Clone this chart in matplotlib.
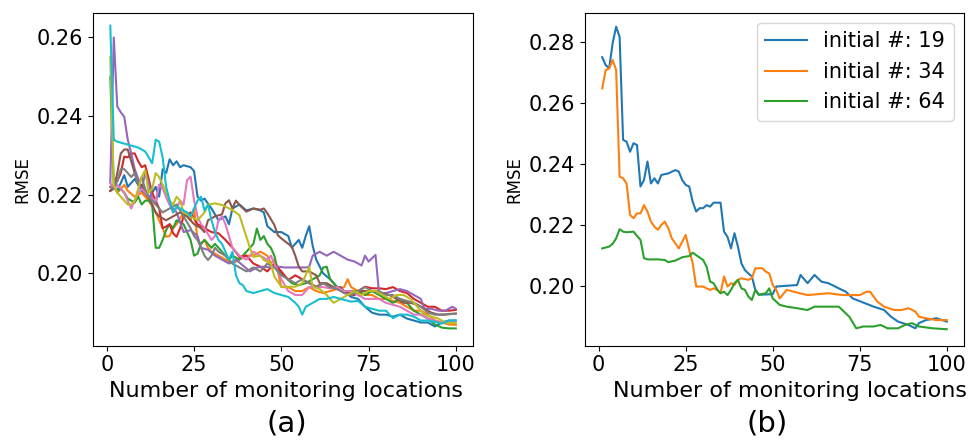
import matplotlib.pyplot as plt

# --- panel (a): ten runs, keypoints ---
a_c0_x = [1, 2, 3, 4, 5, 6, 8, 10, 12, 14, 15, 16, 17, 18, 19, 20, 21, 22, 24, 25, 26, 27, 28, 30, 32, 34, 35, 36, 38, 40, 42, 44, 45, 46, 48, 50, 52, 53, 55, 56, 57, 58, 59, 60, 62, 64, 66, 68, 70, 72, 74, 76, 78, 80, 82, 84, 86, 88, 90, 92, 94, 96, 98, 100]
a_c0_y = [0.221, 0.222, 0.221, 0.223, 0.225, 0.222, 0.224, 0.221, 0.219, 0.222, 0.2195, 0.2265, 0.2255, 0.229, 0.2275, 0.2285, 0.227, 0.2275, 0.227, 0.226, 0.2195, 0.2185, 0.219, 0.2165, 0.2135, 0.2145, 0.2125, 0.2165, 0.2175, 0.216, 0.2165, 0.216, 0.2155, 0.212, 0.2105, 0.2105, 0.2095, 0.2065, 0.2085, 0.2065, 0.2095, 0.212, 0.207, 0.2035, 0.2, 0.1985, 0.1965, 0.1955, 0.194, 0.1935, 0.1915, 0.19, 0.1895, 0.1895, 0.189, 0.1895, 0.1885, 0.188, 0.1875, 0.1875, 0.1865, 0.1875, 0.188, 0.188]

a_c1_x = [1, 2, 3, 4, 5, 6, 8, 10, 12, 14, 15, 16, 17, 18, 19, 20, 22, 24, 25, 26, 27, 28, 29, 30, 32, 34, 36, 38, 40, 42, 44, 46, 47, 48, 49, 50, 52, 54, 56, 58, 60, 62, 64, 66, 68, 69, 70, 72, 74, 76, 78, 80, 82, 84, 86, 88, 90, 92, 94, 96, 98, 100]
a_c1_y = [0.222, 0.2225, 0.2205, 0.2215, 0.2225, 0.221, 0.2195, 0.2205, 0.2185, 0.2155, 0.2135, 0.2115, 0.2093, 0.2095, 0.2115, 0.2125, 0.2155, 0.2135, 0.2165, 0.2085, 0.2075, 0.2085, 0.2065, 0.2055, 0.2045, 0.2035, 0.2025, 0.2035, 0.2045, 0.2045, 0.2055, 0.2045, 0.2025, 0.2035, 0.2005, 0.1965, 0.1965, 0.1955, 0.1955, 0.1965, 0.1955, 0.195, 0.1955, 0.196, 0.1965, 0.1985, 0.1965, 0.1955, 0.1945, 0.1945, 0.1935, 0.1935, 0.193, 0.1925, 0.1915, 0.1905, 0.1905, 0.1895, 0.188, 0.1875, 0.187, 0.1869]

a_c2_x = [1, 2, 3, 4, 5, 6, 7, 8, 9, 10, 11, 12, 13, 14, 15, 16, 17, 18, 19, 20, 22, 24, 25, 26, 27, 28, 29, 30, 31, 32, 33, 34, 35, 36, 38, 40, 42, 43, 44, 45, 46, 47, 48, 49, 51, 53, 55, 57, 59, 61, 62, 63, 64, 66, 68, 70, 72, 74, 76, 78, 80, 82, 84, 86, 88, 90, 92, 94, 96, 98, 100]
a_c2_y = [0.25, 0.222, 0.221, 0.2215, 0.2205, 0.219, 0.2185, 0.218, 0.2195, 0.2175, 0.2185, 0.2185, 0.2175, 0.2065, 0.2065, 0.2085, 0.211, 0.2125, 0.2115, 0.2135, 0.2125, 0.2085, 0.2045, 0.205, 0.2075, 0.2085, 0.2075, 0.2065, 0.2075, 0.2065, 0.2055, 0.2045, 0.2035, 0.2045, 0.2035, 0.2055, 0.2075, 0.2114, 0.2085, 0.2095, 0.2075, 0.2065, 0.2045, 0.2008, 0.1992, 0.1975, 0.197, 0.1975, 0.1985, 0.1995, 0.2015, 0.2017, 0.1985, 0.1965, 0.195, 0.1955, 0.1955, 0.1945, 0.1955, 0.1945, 0.1935, 0.1925, 0.1935, 0.1925, 0.1905, 0.1895, 0.1885, 0.187, 0.1862, 0.186, 0.186]

a_c3_x = [1, 2, 3, 4, 5, 6, 7, 8, 9, 10, 11, 12, 13, 14, 15, 16, 17, 18, 19, 20, 21, 22, 24, 26, 28, 30, 32, 34, 36, 38, 40, 42, 44, 46, 48, 50, 52, 54, 56, 58, 60, 62, 64, 66, 68, 70, 72, 74, 76, 78, 80, 82, 84, 86, 88, 90, 92, 94, 96, 98, 100]
a_c3_y = [0.221, 0.222, 0.2235, 0.2255, 0.2297, 0.2295, 0.2305, 0.2305, 0.2285, 0.227, 0.2275, 0.224, 0.2205, 0.2185, 0.2165, 0.2115, 0.2119, 0.2125, 0.2102, 0.2093, 0.2115, 0.2145, 0.2155, 0.2125, 0.2115, 0.2105, 0.2102, 0.2085, 0.2065, 0.2042, 0.2045, 0.2025, 0.2017, 0.2005, 0.2025, 0.2005, 0.1983, 0.1995, 0.1985, 0.1975, 0.1966, 0.1975, 0.1965, 0.196, 0.1955, 0.1949, 0.1955, 0.1966, 0.1962, 0.1962, 0.196, 0.1965, 0.1955, 0.195, 0.1935, 0.1925, 0.1915, 0.1915, 0.1905, 0.1905, 0.1907]

a_c4_x = [1, 2, 3, 4, 5, 6, 7, 8, 9, 10, 11, 12, 13, 14, 15, 16, 17, 18, 20, 22, 24, 26, 27, 29, 31, 33, 35, 37, 39, 41, 43, 45, 47, 49, 51, 53, 55, 57, 58, 59, 61, 63, 65, 67, 69, 71, 73, 74, 75, 77, 78, 80, 82, 84, 86, 88, 90, 91, 93, 95, 97, 99, 100]
a_c4_y = [0.223, 0.26, 0.2424, 0.241, 0.2398, 0.234, 0.2305, 0.2265, 0.224, 0.2215, 0.2255, 0.223, 0.219, 0.2175, 0.2225, 0.2225, 0.2195, 0.2175, 0.2155, 0.2105, 0.211, 0.2095, 0.2065, 0.206, 0.2045, 0.2035, 0.2025, 0.2035, 0.202, 0.2005, 0.2015, 0.2017, 0.2015, 0.2017, 0.2015, 0.2015, 0.2015, 0.2015, 0.2017, 0.2045, 0.2055, 0.2045, 0.2055, 0.2045, 0.2035, 0.203, 0.202, 0.2045, 0.203, 0.2047, 0.195, 0.195, 0.1955, 0.196, 0.1955, 0.1945, 0.1935, 0.191, 0.191, 0.1905, 0.1905, 0.1915, 0.191]

a_c5_x = [1, 2, 3, 4, 5, 6, 7, 8, 9, 10, 11, 12, 13, 14, 15, 17, 19, 21, 23, 25, 27, 28, 29, 31, 33, 34, 35, 36, 37, 38, 40, 42, 44, 45, 46, 48, 49, 50, 52, 53, 54, 55, 56, 58, 60, 61, 63, 65, 67, 69, 71, 73, 75, 77, 79, 81, 83, 85, 87, 89, 91, 93, 95, 97, 100]
a_c5_y = [0.221, 0.2215, 0.2255, 0.2305, 0.2315, 0.2315, 0.2285, 0.2255, 0.2225, 0.2225, 0.2205, 0.2195, 0.2175, 0.2155, 0.2145, 0.2135, 0.2145, 0.2155, 0.2145, 0.2125, 0.2115, 0.2105, 0.2135, 0.2145, 0.215, 0.2178, 0.2186, 0.2165, 0.2185, 0.2174, 0.2157, 0.2165, 0.2162, 0.2165, 0.2153, 0.2123, 0.2097, 0.2089, 0.2075, 0.2068, 0.2045, 0.2017, 0.2005, 0.2005, 0.1995, 0.1975, 0.1975, 0.1965, 0.1965, 0.1945, 0.1945, 0.1955, 0.1955, 0.1955, 0.195, 0.1945, 0.1935, 0.1925, 0.1925, 0.192, 0.191, 0.19, 0.1895, 0.1895, 0.1898]

a_c6_x = [1, 2, 3, 4, 5, 6, 7, 8, 9, 10, 12, 14, 15, 16, 17, 18, 19, 20, 21, 22, 23, 24, 25, 26, 27, 28, 30, 31, 32, 33, 34, 35, 36, 38, 40, 42, 44, 46, 47, 48, 50, 52, 54, 56, 58, 60, 62, 64, 66, 68, 70, 72, 74, 76, 78, 80, 82, 84, 86, 88, 90, 92, 94, 96, 98, 100]
a_c6_y = [0.223, 0.2215, 0.2225, 0.2215, 0.2205, 0.2185, 0.2165, 0.2185, 0.2205, 0.2215, 0.2195, 0.2185, 0.2225, 0.2215, 0.2195, 0.2175, 0.2155, 0.2165, 0.2185, 0.2175, 0.2237, 0.2246, 0.2186, 0.2145, 0.2125, 0.2115, 0.2085, 0.2095, 0.2135, 0.2145, 0.2125, 0.2095, 0.2065, 0.2045, 0.2035, 0.2055, 0.2045, 0.2034, 0.2045, 0.2025, 0.1985, 0.1955, 0.1945, 0.1945, 0.1965, 0.1965, 0.1965, 0.1962, 0.1965, 0.1955, 0.1955, 0.1945, 0.1935, 0.1935, 0.1935, 0.1925, 0.192, 0.1915, 0.1905, 0.1895, 0.1895, 0.1885, 0.188, 0.1875, 0.1878, 0.1878]

a_c7_x = [1, 2, 3, 4, 5, 6, 7, 8, 9, 10, 11, 12, 13, 14, 15, 16, 18, 20, 22, 24, 25, 26, 27, 28, 29, 30, 31, 32, 34, 36, 38, 40, 42, 44, 46, 48, 50, 52, 54, 56, 58, 60, 62, 64, 66, 68, 70, 72, 74, 76, 78, 80, 82, 84, 86, 88, 90, 92, 94, 96, 98, 100]
a_c7_y = [0.222, 0.2215, 0.2235, 0.2265, 0.2265, 0.2255, 0.2245, 0.2255, 0.2225, 0.2245, 0.2215, 0.2195, 0.2185, 0.2175, 0.2165, 0.2155, 0.2165, 0.2175, 0.2145, 0.2115, 0.2095, 0.2085, 0.2065, 0.2045, 0.2034, 0.2045, 0.2065, 0.2055, 0.2045, 0.2025, 0.2015, 0.2005, 0.2015, 0.2005, 0.2025, 0.2015, 0.1995, 0.1985, 0.1975, 0.1985, 0.1975, 0.1965, 0.1975, 0.1965, 0.196, 0.195, 0.1945, 0.1955, 0.1965, 0.1955, 0.1955, 0.1945, 0.1945, 0.1935, 0.193, 0.1925, 0.1915, 0.19, 0.1895, 0.1895, 0.1897, 0.1897]

a_c8_x = [1, 2, 3, 4, 5, 6, 7, 8, 9, 10, 11, 12, 13, 14, 15, 16, 17, 18, 19, 20, 21, 22, 24, 26, 28, 29, 31, 33, 36, 38, 40, 41, 42, 44, 45, 47, 48, 50, 52, 54, 56, 58, 59, 61, 63, 65, 67, 69, 71, 73, 75, 77, 79, 81, 83, 85, 87, 89, 91, 93, 95, 97, 100]
a_c8_y = [0.255, 0.2225, 0.2205, 0.2195, 0.2185, 0.2175, 0.2175, 0.2185, 0.2215, 0.2245, 0.2263, 0.2205, 0.2215, 0.2255, 0.2245, 0.2225, 0.2205, 0.2185, 0.2175, 0.2195, 0.2185, 0.2155, 0.2145, 0.2135, 0.2155, 0.2175, 0.2178, 0.2174, 0.2161, 0.2148, 0.2093, 0.2065, 0.2042, 0.2045, 0.2034, 0.2025, 0.1992, 0.1966, 0.1966, 0.1966, 0.1975, 0.2017, 0.1966, 0.196, 0.1945, 0.1925, 0.1935, 0.1945, 0.1955, 0.1945, 0.1955, 0.1955, 0.1945, 0.1935, 0.1945, 0.1945, 0.1935, 0.1915, 0.1895, 0.189, 0.1885, 0.1875, 0.1873]

a_c9_x = [1, 2, 3, 5, 7, 9, 11, 12, 13, 14, 15, 16, 17, 18, 19, 20, 22, 23, 24, 26, 27, 28, 29, 30, 31, 32, 33, 34, 35, 36, 37, 38, 39, 40, 42, 44, 46, 48, 50, 52, 54, 55, 56, 57, 59, 61, 63, 65, 67, 70, 72, 74, 76, 78, 80, 82, 84, 86, 88, 90, 92, 94, 96, 98, 100]
a_c9_y = [0.263, 0.234, 0.2335, 0.233, 0.2325, 0.232, 0.231, 0.2295, 0.228, 0.234, 0.2335, 0.2295, 0.222, 0.2185, 0.2155, 0.217, 0.216, 0.2155, 0.2145, 0.2185, 0.2195, 0.216, 0.2175, 0.2135, 0.2105, 0.2085, 0.2075, 0.2055, 0.2035, 0.2055, 0.1995, 0.1975, 0.197, 0.1955, 0.195, 0.1955, 0.196, 0.195, 0.1945, 0.194, 0.1925, 0.1915, 0.1895, 0.1915, 0.1925, 0.1935, 0.1935, 0.194, 0.1935, 0.1928, 0.193, 0.1915, 0.191, 0.1905, 0.1905, 0.1886, 0.1895, 0.1895, 0.189, 0.188, 0.188, 0.1877, 0.1872, 0.188, 0.188]

# --- panel (b): three initial sizes ---
b_labels = ['initial #: 19', 'initial #: 34', 'initial #: 64']

b19_x = [1, 2, 3, 4, 5, 6, 7, 8, 9, 10, 11, 12, 13, 14, 15, 16, 17, 18, 20, 22, 23, 24, 25, 26, 27, 28, 29, 30, 31, 32, 33, 35, 36, 37, 38, 39, 40, 41, 42, 43, 44, 45, 46, 50, 51, 57, 58, 60, 62, 64, 66, 69, 71, 73, 79, 82, 84, 86, 89, 91, 92, 94, 97, 100]
b19_y = [0.2749, 0.2723, 0.2713, 0.2795, 0.2849, 0.2816, 0.2478, 0.2472, 0.2439, 0.2467, 0.2461, 0.2325, 0.2346, 0.2407, 0.2335, 0.2352, 0.2335, 0.2363, 0.2368, 0.2379, 0.2374, 0.2346, 0.233, 0.2325, 0.2275, 0.2243, 0.2254, 0.2254, 0.2264, 0.2259, 0.2272, 0.2272, 0.2177, 0.216, 0.2122, 0.2172, 0.2128, 0.2073, 0.2051, 0.204, 0.203, 0.1986, 0.197, 0.1972, 0.1997, 0.2002, 0.2035, 0.2008, 0.2035, 0.2013, 0.2008, 0.1991, 0.198, 0.1958, 0.1931, 0.192, 0.1898, 0.1882, 0.1871, 0.186, 0.1877, 0.1887, 0.1893, 0.1882]

b34_x = [1, 2, 3, 4, 5, 6, 7, 8, 9, 10, 11, 12, 13, 14, 15, 16, 17, 18, 19, 20, 21, 22, 23, 24, 25, 26, 27, 28, 30, 31, 32, 33, 34, 35, 36, 37, 38, 39, 40, 41, 43, 44, 45, 47, 48, 49, 50, 51, 52, 54, 56, 60, 66, 70, 75, 77, 78, 80, 82, 85, 87, 89, 91, 92, 94, 97, 100]
b34_y = [0.2647, 0.2707, 0.2712, 0.274, 0.2707, 0.2357, 0.2352, 0.2335, 0.2232, 0.2221, 0.2237, 0.2237, 0.2264, 0.2243, 0.221, 0.2193, 0.2183, 0.2199, 0.221, 0.2188, 0.2155, 0.2139, 0.2122, 0.2144, 0.2166, 0.2117, 0.2073, 0.1997, 0.1997, 0.1991, 0.1986, 0.1991, 0.1986, 0.1975, 0.203, 0.1997, 0.2008, 0.2002, 0.2019, 0.2024, 0.2019, 0.2024, 0.2057, 0.2057, 0.2046, 0.204, 0.2002, 0.1986, 0.1958, 0.1986, 0.198, 0.1969, 0.1975, 0.1969, 0.1969, 0.198, 0.198, 0.1948, 0.1931, 0.192, 0.192, 0.1926, 0.1915, 0.1898, 0.1893, 0.1887, 0.1887]

b64_x = [1, 3, 4, 5, 6, 7, 8, 10, 11, 12, 13, 14, 17, 19, 20, 22, 24, 26, 27, 28, 30, 31, 32, 33, 34, 35, 36, 37, 38, 39, 40, 41, 42, 43, 44, 45, 46, 48, 49, 50, 52, 54, 57, 60, 62, 66, 69, 70, 72, 74, 76, 79, 81, 83, 86, 88, 90, 92, 96, 100]
b64_y = [0.2122, 0.2128, 0.2137, 0.2155, 0.2185, 0.2177, 0.2175, 0.2177, 0.2163, 0.215, 0.209, 0.2086, 0.2086, 0.2084, 0.2077, 0.2082, 0.2093, 0.2097, 0.2108, 0.21, 0.2084, 0.2062, 0.2013, 0.2008, 0.1988, 0.1975, 0.198, 0.1969, 0.1986, 0.2008, 0.2019, 0.1991, 0.1986, 0.1964, 0.1953, 0.1986, 0.197, 0.1975, 0.1991, 0.1958, 0.1937, 0.1931, 0.1926, 0.192, 0.1931, 0.1931, 0.1931, 0.192, 0.1898, 0.186, 0.1866, 0.1866, 0.1871, 0.186, 0.186, 0.1871, 0.1877, 0.1866, 0.186, 0.1857]

a_runs = [(a_c0_x, a_c0_y), (a_c1_x, a_c1_y), (a_c2_x, a_c2_y), (a_c3_x, a_c3_y),
          (a_c4_x, a_c4_y), (a_c5_x, a_c5_y), (a_c6_x, a_c6_y), (a_c7_x, a_c7_y),
          (a_c8_x, a_c8_y), (a_c9_x, a_c9_y)]
b_runs = [(b19_x, b19_y), (b34_x, b34_y), (b64_x, b64_y)]

fig = plt.figure(figsize=(9.69, 4.44), dpi=100)
ax1 = fig.add_axes([0.096, 0.2214, 0.3922, 0.75])
ax2 = fig.add_axes([0.6037, 0.2214, 0.3911, 0.75])

for i, (xs, ys) in enumerate(a_runs):
    ax1.plot(xs, ys, color=f'C{i}', linewidth=1.5)

for i, (xs, ys) in enumerate(b_runs):
    ax2.plot(xs, ys, color=f'C{i}', linewidth=1.5, label=b_labels[i])

ax1.set_xlim(-3.95, 104.95)
ax1.set_ylim(0.1816, 0.2663)
ax1.set_yticks([0.20, 0.22, 0.24, 0.26])
ax2.set_xlim(-3.95, 104.95)
ax2.set_ylim(0.1803, 0.2895)
ax2.set_yticks([0.20, 0.22, 0.24, 0.26, 0.28])

for ax, tag, lx in [(ax1, '(a)', 0.508), (ax2, '(b)', 0.541)]:
    ax.set_xticks([0, 25, 50, 75, 100])
    ax.tick_params(labelsize=15)
    ax.set_xlabel('Number of monitoring locations', fontsize=16)
    ax.xaxis.label.set_x(lx)
    ax.set_ylabel('RMSE', fontsize=12)

ax2.legend(loc='upper right', fontsize=15)

fig.text(287 / 969, 1 - 423 / 444, '(a)', fontsize=21, ha='center', va='center')
fig.text(767 / 969, 1 - 423 / 444, '(b)', fontsize=21, ha='center', va='center')

fig.savefig('out.png', dpi=100)
